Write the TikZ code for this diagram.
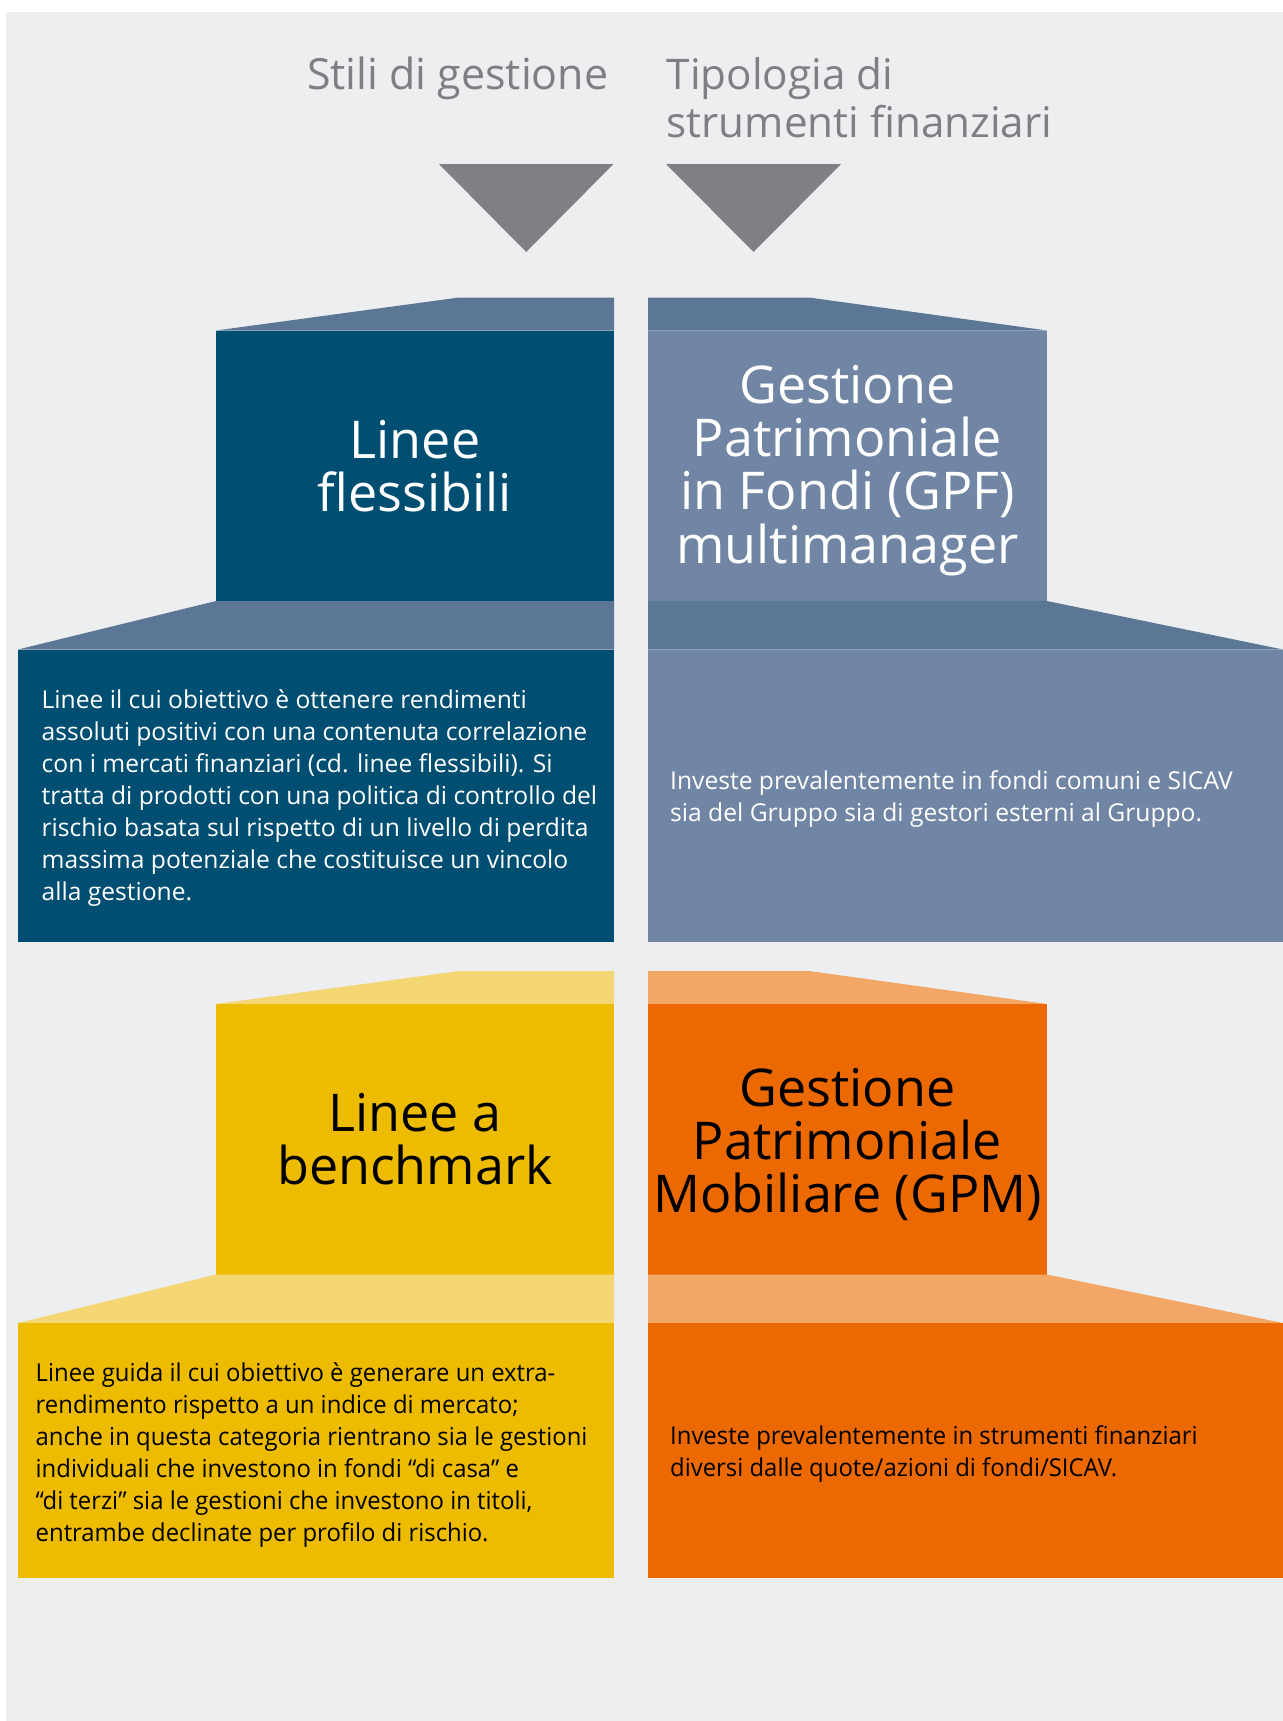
\documentclass[tikz,border=0pt]{standalone}
\usepackage{fontspec}
\setmainfont{Open Sans}
\newfontfamily\narrowfont[FakeStretch=0.97]{Open Sans}
\usetikzlibrary{positioning}

\definecolor{bggrey}{HTML}{EDEEF0}
\definecolor{arrowgrey}{HTML}{807F84}
\definecolor{headgrey}{HTML}{7F7F83}
\definecolor{dkblue}{HTML}{004F72}
\definecolor{capblue}{HTML}{5B7795}
\definecolor{greyblue}{HTML}{7186A4}
\definecolor{gold}{HTML}{EDBC00}
\definecolor{lightgold}{HTML}{F5D674}
\definecolor{gpmorange}{HTML}{EB6900}
\definecolor{lightorange}{HTML}{F3A766}

\begin{document}
\begin{tikzpicture}[x=0.01cm, y=-0.01cm,
  blocktitle/.style={align=center, font=\fontsize{14.8}{15.1}\selectfont},
  blockdesc/.style={align=left, anchor=north west, inner sep=0pt, font=\fontsize{7}{9.1}\selectfont},
  narrowdesc/.style={blockdesc, font=\narrowfont\fontsize{7}{9.1}\selectfont},
  headtext/.style={text=headgrey, inner sep=0pt, font=\fontsize{12.2}{13.7}\selectfont}]

 \useasboundingbox (0,0) rectangle (1283,1721);
 \fill[white] (0,0) rectangle (1283,1721);
 \fill[bggrey] (6,12) rectangle (1283,1721);

 % headers
 \node[headtext, anchor=base east] (stili) at (609,89) {Stili di gestione};
 \node[headtext, align=left, anchor=north west, font=\fontsize{12}{13.7}\selectfont] (tipologia) at (666,57) {Tipologia di\\strumenti finanziari};

 % arrows
 \foreach \xl/\xr in {439/613.5, 666/841}
   \fill[arrowgrey] (\xl,164) -- (\xr,164) -- ({(\xl+\xr)/2},252) -- cycle;

 % blocks
 \foreach \dy/\descB/\mainL/\capL/\mainR/\capR in {0/941.5/dkblue/capblue/greyblue/capblue, 673.5/1577.5/gold/lightgold/gpmorange/lightorange} {
   % left column
   \fill[\capL] (216,330.5+\dy) -- (459,297.5+\dy) -- (614,297.5+\dy) -- (614,330.5+\dy) -- cycle;
   \fill[\mainL] (216,330.5+\dy) rectangle (614,601+\dy);
   \fill[\capL] (216,601+\dy) -- (614,601+\dy) -- (614,649.5+\dy) -- (18,649.5+\dy) -- cycle;
   \fill[\mainL] (18,649.5+\dy) rectangle (614,\descB);
   % right column
   \fill[\capR] (648,297.5+\dy) -- (809,297.5+\dy) -- (1047,330.5+\dy) -- (648,330.5+\dy) -- cycle;
   \fill[\mainR] (648,330.5+\dy) rectangle (1047,601+\dy);
   \fill[\capR] (648,601+\dy) -- (1047,601+\dy) -- (1283,649.5+\dy) -- (648,649.5+\dy) -- cycle;
   \fill[\mainR] (648,649.5+\dy) rectangle (1283,\descB);
 }

 % titles
 \node[blocktitle, text=white] (flessibili) at (415,466) {Linee\\flessibili};
 \node[blocktitle, text=white] (gpf) at (847.5,470.5) {Gestione\\Patrimoniale\\in Fondi (GPF)\\multimanager};
 \node[blocktitle] (benchmark) at (415,1139) {Linee a\\benchmark};
 \node[blocktitle] (gpm) at (847.5,1144.5) {Gestione\\Patrimoniale\\Mobiliare (GPM)};

 % descriptions
 \node[blockdesc, text=white] (flessdesc) at (41,689) {Linee il cui obiettivo è ottenere rendimenti\\assoluti positivi con una contenuta correlazione\\con i mercati finanziari (cd. linee flessibili). Si\\tratta di prodotti con una politica di controllo del\\rischio basata sul rispetto di un livello di perdita\\massima potenziale che costituisce un vincolo\\alla gestione.};
 \node[blockdesc, text=white] (gpfdesc) at (669.5,770) {Investe prevalentemente in fondi comuni e SICAV\\sia del Gruppo sia di gestori esterni al Gruppo.};
 \node[narrowdesc] (benchdesc) at (35,1362) {Linee guida il cui obiettivo è generare un extra-\\rendimento rispetto a un indice di mercato;\\anche in questa categoria rientrano sia le gestioni\\individuali che investono in fondi “di casa” e\\“di terzi” sia le gestioni che investono in titoli,\\entrambe declinate per profilo di rischio.};
 \node[narrowdesc] (gpmdesc) at (669.5,1425) {Investe prevalentemente in strumenti finanziari\\diversi dalle quote/azioni di fondi/SICAV.};

\end{tikzpicture}
\end{document}
